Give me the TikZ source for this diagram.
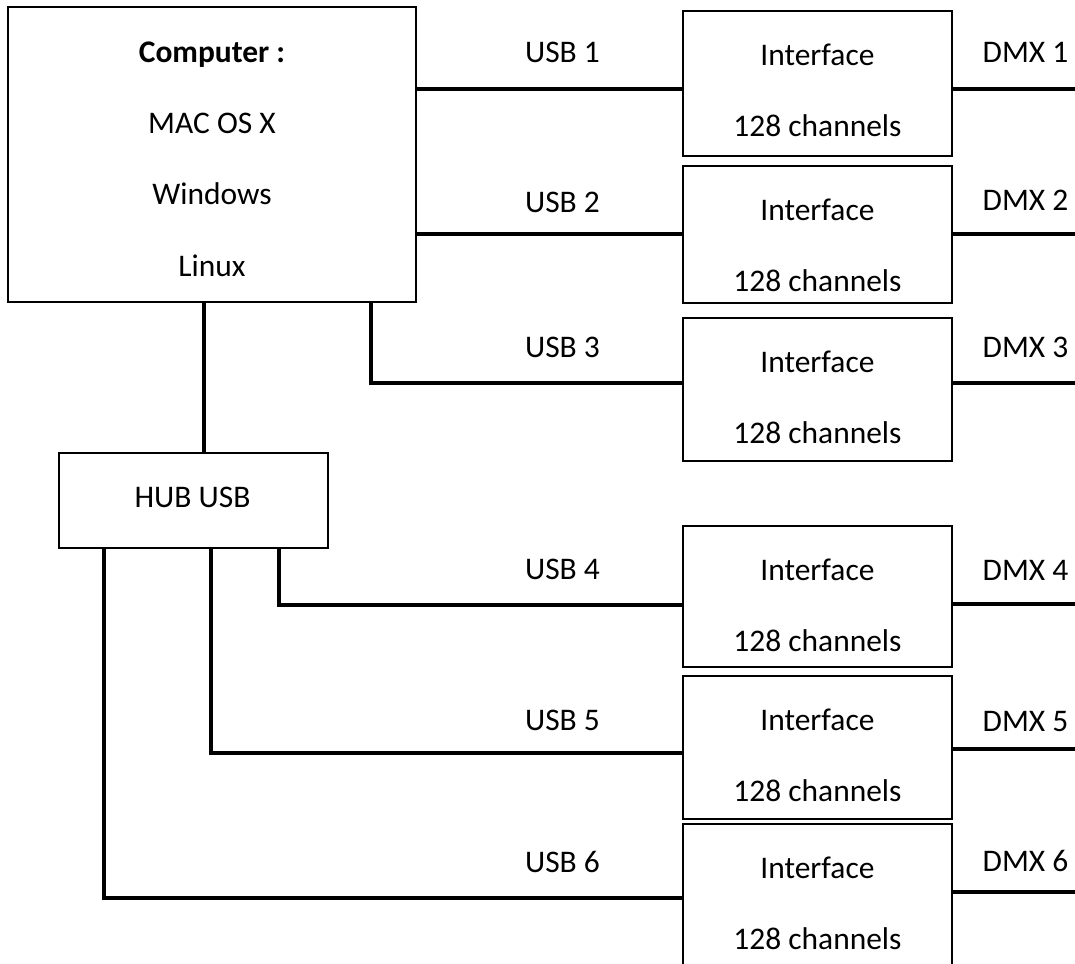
\documentclass[tikz,border=0pt]{standalone}
\usepackage{fontspec}
\setmainfont{Carlito}
\usetikzlibrary{calc}
\begin{document}
\begin{tikzpicture}[x=0.75pt,y=-0.75pt,
  box/.style={draw=black,line width=1.4pt,rectangle,inner sep=0pt,anchor=north west},
  wire/.style={draw=black,line width=2.6pt},
  txt/.style={font=\fontsize{23.6}{28}\selectfont,anchor=base,inner sep=0pt}]
\useasboundingbox (0,0) rectangle (1075,964);
\clip (0,0) rectangle (1075,964);

% computer
\node[box,minimum width={408*0.75pt},minimum height={295*0.75pt}] (comp) at (7,6) {};
\node[txt,font=\fontsize{23.6}{28}\selectfont\bfseries] (ct0) at (212,62) {Computer :};
\node[txt] (ct1) at (212,133) {MAC OS X};
\node[txt] (ct2) at (212,204) {Windows};
\node[txt] (ct3) at (212,276) {Linux};

% hub
\node[box,minimum width={269*0.75pt},minimum height={95*0.75pt}] (hub) at (58,452) {};
\node[txt] (ht) at (192.5,507) {HUB USB};

% interfaces
\foreach \n/\t/\h in {1/10/145,2/165/137,3/317/143,4/525/141,5/675/143,6/823/170} {
  \node[box,minimum width={269*0.75pt},minimum height={\h*0.75pt}] (i\n) at (682,\t) {};
  \node[txt] (ia\n) at ($(i\n.north)+(0,55)$) {Interface};
  \node[txt] (ib\n) at ($(i\n.north)+(0,126)$) {128 channels};
}

% heights of connectors
\coordinate (y1) at (0,89);
\coordinate (y2) at (0,234);
\coordinate (y3) at (0,383);
\coordinate (y4) at (0,605);
\coordinate (y5) at (0,753);
\coordinate (y6) at (0,898);
\coordinate (d1) at (0,89);
\coordinate (d2) at (0,234);
\coordinate (d3) at (0,383);
\coordinate (d4) at (0,604);
\coordinate (d5) at (0,749);
\coordinate (d6) at (0,892);
\coordinate (c0) at (204,0);
\coordinate (c3) at (371,0);
\coordinate (h4) at (279,0);
\coordinate (h5) at (211,0);
\coordinate (h6) at (104,0);
\coordinate (R) at (1085,0);

% USB connectors
\draw[wire] (comp.east |- y1) -- (i1.west |- y1);
\draw[wire] (comp.east |- y2) -- (i2.west |- y2);
\draw[wire] (comp.south -| c3) |- (i3.west |- y3);
\draw[wire] (comp.south -| c0) -- (hub.north -| c0);
\draw[wire] (hub.south -| h4) |- (i4.west |- y4);
\draw[wire] (hub.south -| h5) |- (i5.west |- y5);
\draw[wire] (hub.south -| h6) |- (i6.west |- y6);

% DMX connectors
\foreach \n in {1,...,6} {
  \draw[wire] (i\n.east |- d\n) -- (R |- d\n);
}

% labels
\node[txt] (u1) at (562.5,62) {USB 1};
\node[txt] (u2) at (562.5,212) {USB 2};
\node[txt] (u3) at (562.5,357) {USB 3};
\node[txt] (u4) at (562.5,579) {USB 4};
\node[txt] (u5) at (562.5,730) {USB 5};
\node[txt] (u6) at (562.5,872) {USB 6};
\node[txt] (m1) at (1025.5,62) {DMX 1};
\node[txt] (m2) at (1025.5,210) {DMX 2};
\node[txt] (m3) at (1025.5,357) {DMX 3};
\node[txt] (m4) at (1025.5,580) {DMX 4};
\node[txt] (m5) at (1025.5,731) {DMX 5};
\node[txt] (m6) at (1025.5,871) {DMX 6};
\end{tikzpicture}
\end{document}
